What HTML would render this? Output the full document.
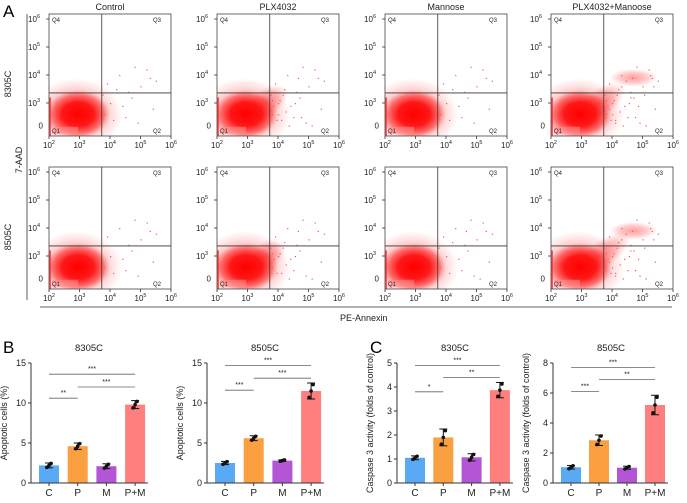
<!DOCTYPE html>
<html><head><meta charset="utf-8"><style>
body{margin:0;background:#fff;width:687px;height:498px;overflow:hidden;font-family:"Liberation Sans",sans-serif}
svg text{font-family:"Liberation Sans",sans-serif}
</style></head><body>
<svg id="fig" width="687" height="498" viewBox="0 0 687 498" xmlns="http://www.w3.org/2000/svg">
<defs>
<radialGradient id="cloud" cx="50%" cy="50%" r="50%">
<stop offset="0" stop-color="#ff0000" stop-opacity="1"/>
<stop offset="0.5" stop-color="#ff1010" stop-opacity="0.95"/>
<stop offset="0.8" stop-color="#ff3030" stop-opacity="0.55"/>
<stop offset="1" stop-color="#ff6060" stop-opacity="0"/>
</radialGradient>
<radialGradient id="halo" cx="50%" cy="50%" r="50%">
<stop offset="0" stop-color="#ff3030" stop-opacity="0.6"/>
<stop offset="0.6" stop-color="#ff5050" stop-opacity="0.35"/>
<stop offset="1" stop-color="#ff7070" stop-opacity="0"/>
</radialGradient>
</defs>
<text x="3" y="17" font-size="17">A</text>
<text x="3" y="353" font-size="17">B</text>
<text x="370" y="353" font-size="17">C</text>
</svg>
<script>
// ---------- Flow data ----------
const flowTitles = ["Control","PLX4032","Mannose","PLX4032+Manoose"];
const rowLabels = ["8305C","8505C"];
// scattered events (log10 Annexin, log10 7-AAD)
const eventX = [3.8,4.1,4.4,4.7,5.0,5.3,3.9,4.3,4.6,4.9,5.2,5.5,4.0,4.5,4.8,5.4,3.75,4.2,4.65,5.1,3.85,4.05,4.25,3.95,4.15,4.35,4.55,3.8,4.0,4.75,5.05,5.35,4.45,3.9,4.1,4.6,4.85,5.25,3.78,4.3];
const eventY = [2.6,2.4,2.9,3.2,3.6,3.9,3.7,4.0,3.4,2.3,4.2,3.8,3.0,2.5,4.3,2.8,3.3,3.5,3.9,2.2,2.9,3.1,2.7,2.4,3.3,2.2,3.0,3.1,2.6,2.5,3.3,3.6,3.8,2.8,2.3,3.2,2.9,4.0,2.5,3.6];
const panelEvents = [[18,30,18,40],[16,28,20,40]];
const panelSpread = [[0.2,0.7,0.2,0.8],[0.2,0.6,0.3,1.0]];

const svg = document.getElementById('fig');
const NS = 'http://www.w3.org/2000/svg';
function el(tag, attrs, parent){const e=document.createElementNS(NS,tag);for(const k in attrs)e.setAttribute(k,attrs[k]);(parent||svg).appendChild(e);return e;}
function txt(x,y,s,size,anchor,parent){const t=el('text',{x:x,y:y,'font-size':size,'text-anchor':anchor||'middle',fill:'#222'},parent);t.textContent=s;return t;}

const boxLefts=[49,217,385,551], boxTops=[14,167], BW=122, BH=122;
function fx(d){return (d-2)/4*BW;}
function fy(d){return 89-(d-3)*28;}

rowLabels.forEach((r,i)=>{
  const t=txt(0,0,r,9,'middle');t.setAttribute('transform',`translate(11,${boxTops[i]+70}) rotate(-90)`);
  
  
});
const t7=txt(0,0,'7-AAD',9,'middle');t7.setAttribute('transform','translate(22,160) rotate(-90)');


el('line',{x1:27,y1:14,x2:27,y2:300,stroke:'#333','stroke-width':0.8});
el('line',{x1:40,y1:307,x2:672,y2:307,stroke:'#333','stroke-width':0.8});
const pe=txt(340,321,'PE-Annexin',9,'start');



for(let r=0;r<2;r++)for(let c=0;c<4;c++){
  const g=el('g',{transform:`translate(${boxLefts[c]},${boxTops[r]})`});
  
  
  if(r===0){const tt=txt(BW/2,-4,flowTitles[c],9,'middle',g);}
  const sp=panelSpread[r][c];
  el('clipPath',{id:`clip${r}${c}`},g).appendChild(document.createElementNS(NS,'rect'));
  const cp=g.lastChild.firstChild;cp.setAttribute('width',BW);cp.setAttribute('height',BH);
  const inner=el('g',{'clip-path':`url(#clip${r}${c})`},g);
  el('ellipse',{cx:fx(2.9),cy:fy(2.6),rx:46,ry:36,fill:'url(#halo)'},inner);
  if(sp>0.4) el('ellipse',{cx:fx(3.6),cy:fy(3.0),rx:36*sp,ry:14,fill:'url(#halo)',transform:`rotate(-35 ${fx(3.6)} ${fy(3.0)})`},inner);
  if(sp>0.7) el('ellipse',{cx:fx(4.7),cy:fy(3.9),rx:24,ry:9,fill:'url(#halo)',opacity:0.8},inner);
  el('ellipse',{cx:fx(2.95),cy:fy(2.6),rx:32,ry:24,fill:'url(#cloud)'},inner);
  el('rect',{x:0,y:fy(3.2),width:2,height:BH,fill:'#ff2020',opacity:0.7},inner);
  el('rect',{x:3,y:fy(2.15),width:fx(3.05)-6,height:BH-fy(2.15)-2,fill:'#ff9090',opacity:0.55},inner);
  for(let i=0;i<panelEvents[r][c];i++){
    const d=el('rect',{x:fx(eventX[i]),y:fy(eventY[i]),width:1.2,height:1.2,fill:'#f55'},g);
    
    
  }
  el('rect',{x:0,y:0,width:BW,height:BH,fill:'none',stroke:'#444','stroke-width':0.8},g);
  el('line',{x1:fx(3.73),y1:0,x2:fx(3.73),y2:BH,stroke:'#333','stroke-width':0.8},g);
  el('line',{x1:0,y1:fy(3.36),x2:BW,y2:fy(3.36),stroke:'#333','stroke-width':0.8},g);
  txt(3,8,'Q4',6,'start',g);txt(BW-18,8,'Q3',6,'start',g);
  txt(3,BH-3,'Q1',6,'start',g);txt(BW-18,BH-3,'Q2',6,'start',g);
  for(let d=2;d<=6;d++){
    el('line',{x1:fx(d),y1:BH,x2:fx(d),y2:BH+3,stroke:'#333','stroke-width':0.8},g);
    const t=el('text',{x:fx(d),y:BH+12,'font-size':8,'text-anchor':'middle',fill:'#222'},g);
    t.innerHTML=`10<tspan dy="-4" font-size="5.5">${d}</tspan>`;
  }
  [[3,'3'],[4,'4'],[5,'5'],[6,'6']].forEach(a=>{
    el('line',{x1:-3,y1:fy(a[0]),x2:0,y2:fy(a[0]),stroke:'#333','stroke-width':0.8},g);
    const t=el('text',{x:-9,y:fy(a[0])+3,'font-size':8,'text-anchor':'end',fill:'#222'},g);
    t.innerHTML=`10<tspan dy="-4" font-size="5.5">${a[1]}</tspan>`;
  });
  txt(-6,fy(2.2)+3,'0',8,'end',g);
}

// ---------- Bar charts ----------
const cats=["C","P","M","P+M"];
const colors=["#5aa9f5","#fba040","#b455d6","#ff7f7f"];
const b1Vals=[2.2,4.6,2.1,9.8], b1Err=[0.3,0.4,0.3,0.5];
const b2Vals=[2.5,5.6,2.8,11.5], b2Err=[0.2,0.3,0.1,1.0];
const c1Vals=[1.05,1.9,1.07,3.87], c1Err=[0.08,0.35,0.15,0.32];
const c2Vals=[1.05,2.85,1.02,5.2], c2Err=[0.12,0.35,0.1,0.65];
const b1Ticks=[0,5,10,15], b2Ticks=[0,5,10,15], c1Ticks=[0,1,2,3,4,5], c2Ticks=[0,2,4,6,8];
const b1Sig=[[0,1,10.6,'**'],[1,3,12,'***'],[0,3,13.6,'***']];
const b2Sig=[[0,1,11.6,'***'],[1,3,13.1,'***'],[0,3,14.7,'***']];
const c1Sig=[[0,1,3.8,'*'],[1,3,4.4,'**'],[0,3,4.9,'***']];
const c2Sig=[[0,1,6.1,'***'],[1,3,6.9,'**'],[0,3,7.7,'***']];

function bar(name,ax,title,ylab,vals,errs,ticks,sig,step){
  const g=el('g',{});
  
  
  const y0=483,y1=363,max=ticks[ticks.length-1];
  const sy=v=>y0-(v/max)*(y0-y1);
  const xs=i=>ax+18+i*step;
  const t=txt(ax+58,351,title,9.5,'middle',g);
  
  
  const yl=txt(0,0,ylab,9,'middle',g);yl.setAttribute('transform',`translate(${ax-24},${(y0+y1)/2}) rotate(-90)`);
  
  
  vals.forEach((v,i)=>{
    const b=el('rect',{x:xs(i)-10,y:sy(v),width:20,height:y0-sy(v),fill:colors[i]},g);
    
    
    const e=errs[i];
    el('line',{x1:xs(i),y1:sy(v+e),x2:xs(i),y2:sy(v-e),stroke:'#111','stroke-width':1},g);
    el('line',{x1:xs(i)-4,y1:sy(v+e),x2:xs(i)+4,y2:sy(v+e),stroke:'#111','stroke-width':1},g);
    el('line',{x1:xs(i)-4,y1:sy(v-e),x2:xs(i)+4,y2:sy(v-e),stroke:'#111','stroke-width':1},g);
    [-0.8,0,0.8].forEach((o,k)=>el('circle',{cx:xs(i)+(k-1)*2,cy:sy(v+o*e),r:1.8,fill:'#111'},g));
    txt(xs(i),y0+13,cats[i],10,'middle',g);
    el('line',{x1:xs(i),y1:y0,x2:xs(i),y2:y0+3,stroke:'#333'},g);
  });
  el('line',{x1:ax,y1:y1,x2:ax,y2:y0,stroke:'#333','stroke-width':1},g);
  el('line',{x1:ax,y1:y0,x2:xs(3)+13,y2:y0,stroke:'#333','stroke-width':1},g);
  ticks.forEach(tv=>{
    el('line',{x1:ax-3,y1:sy(tv),x2:ax,y2:sy(tv),stroke:'#333'},g);
    txt(ax-5,sy(tv)+3,String(tv),9,'end',g);
  });
  sig.forEach(s=>{
    const l=el('line',{x1:xs(s[0]),y1:sy(s[2]),x2:xs(s[1]),y2:sy(s[2]),stroke:'#666','stroke-width':0.8},g);
    
    
    txt((xs(s[0])+xs(s[1]))/2,sy(s[2])-3,s[3],7,'middle',g);
  });
}
bar('chart-b-8305c',31,'8305C','Apoptotic cells (%)',b1Vals,b1Err,b1Ticks,b1Sig,28.7);
bar('chart-b-8505c',207,'8505C','Apoptotic cells (%)',b2Vals,b2Err,b2Ticks,b2Sig,28.7);
bar('chart-c-8305c',397,'8305C','Caspase 3 activity (folds of control)',c1Vals,c1Err,c1Ticks,c1Sig,28.3);
bar('chart-c-8505c',553,'8505C','Caspase 3 activity (folds of control)',c2Vals,c2Err,c2Ticks,c2Sig,28);
</script>
</body></html>
